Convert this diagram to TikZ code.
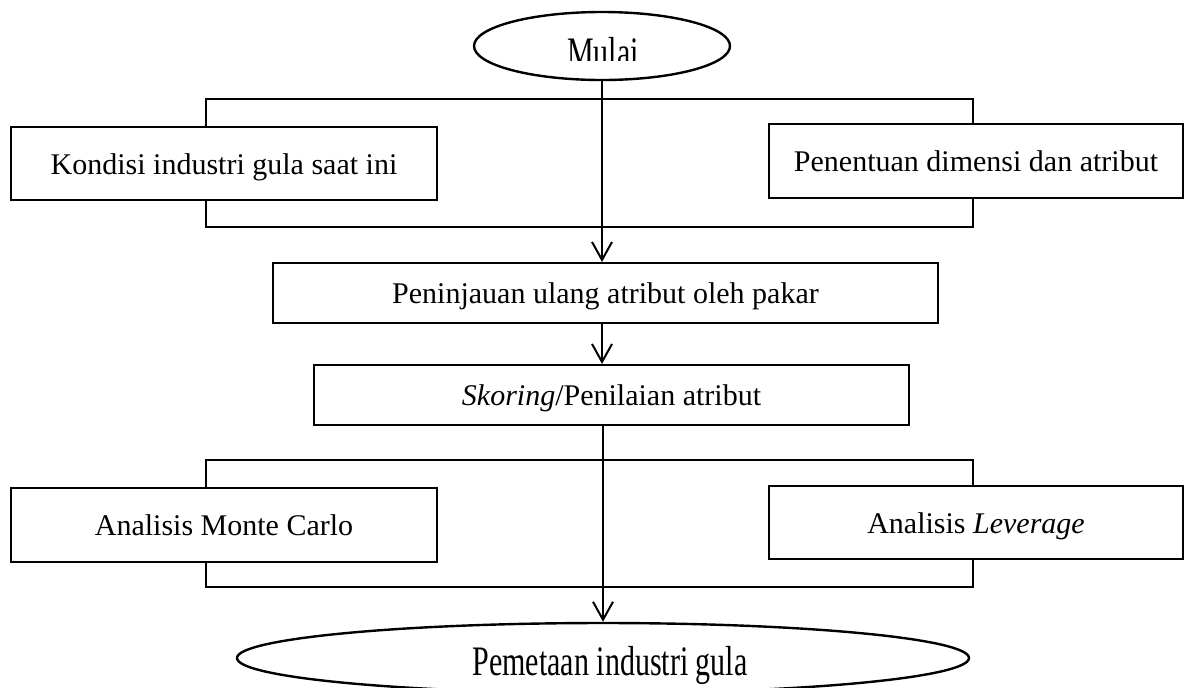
\documentclass[tikz,border=0pt]{standalone}
\usepackage{fontspec}
\setmainfont{Liberation Serif}
\usepackage{graphicx}
\usetikzlibrary{arrows.meta,shapes.geometric}
\tikzset{
  boxnode/.style={draw, line width=1pt, fill=white, inner sep=0pt, text height=12.5pt, text depth=2pt, font=\fontsize{15}{18}\selectfont},
  bracketnode/.style={draw, line width=0.9pt, inner sep=0pt},
  ovalnode/.style={draw, ellipse, line width=1.2pt, inner sep=0pt, fill=white},
  lbl/.style={inner sep=0pt, font=\fontsize{15}{18}\selectfont},
  arr/.style={line width=1pt, -{Straight Barb[length=9pt,width=10pt,line width=1pt]}},
}
\begin{document}
\begin{tikzpicture}[x=0.5pt,y=-0.5pt]
\useasboundingbox (0,0) rectangle (1192,687);
% bracket frames
\node[bracketnode, minimum width=383.5pt, minimum height=64pt] (br1) at (589.5,163) {};
\node[bracketnode, minimum width=383.5pt, minimum height=63.5pt] (br2) at (589.5,523.5) {};
% boxes
\node[boxnode, minimum width=213pt, minimum height=36.5pt] (k1) at (224,163.5) {Kondisi industri gula saat ini};
\node[boxnode, minimum width=207pt, minimum height=37pt] (p1) at (976,161) {Penentuan dimensi dan atribut};
\node[boxnode, minimum width=332.5pt, minimum height=30pt] (pen) at (605.5,293) {Peninjauan ulang atribut oleh pakar};
\node[boxnode, minimum width=297.5pt, minimum height=30pt] (sk) at (611.5,395) {\textit{Skoring}/Penilaian atribut};
\node[boxnode, minimum width=213pt, minimum height=37pt] (m1) at (224,525) {Analisis Monte Carlo};
\node[boxnode, minimum width=207pt, minimum height=36.5pt] (l1) at (976,522.5) {Analisis \textit{Leverage}};
% ellipses
\node[ovalnode, minimum width=128pt, minimum height=34pt] (mulai) at (602,46) {};
\node[ovalnode, minimum width=366pt, minimum height=35pt] (pem) at (603,658) {};
\begin{scope}
\clip (470,12) rectangle (740,60);
\node[lbl, anchor=base] (tmulai) at (603,66) {\scalebox{1}[1.4]{Mulai}};
\end{scope}
\node[lbl, anchor=base] (tpem) at (610,675) {\scalebox{1}[1.4]{Pemetaan industri gula}};
% arrows
\draw[arr] (mulai.south) -- (mulai.south |- pen.north);
\draw[arr] (pen.south -| mulai.south) -- (sk.north -| mulai.south);
\draw[arr] (sk.south -| pem.north) -- (pem.north);
\end{tikzpicture}
\end{document}
